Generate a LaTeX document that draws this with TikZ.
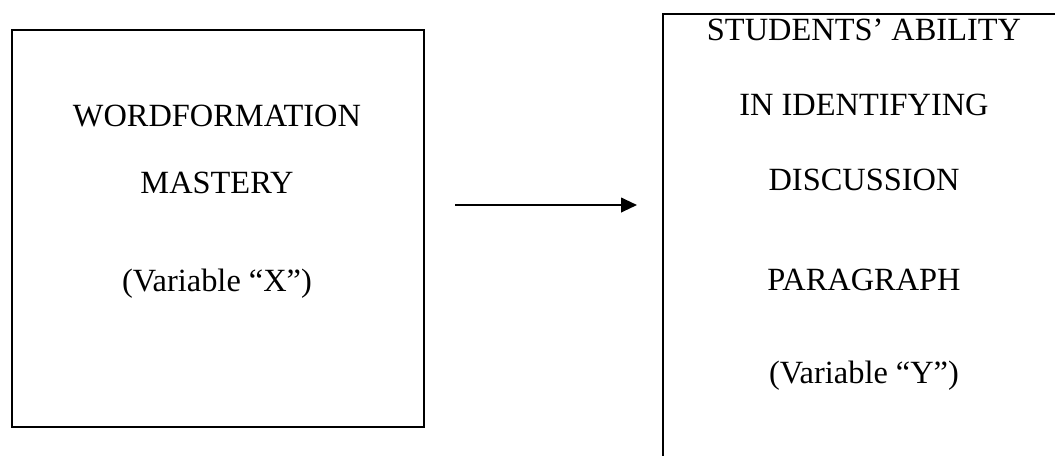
\documentclass[tikz,border=0pt]{standalone}
\usepackage{fontspec}
\setmainfont{Liberation Serif}
\usetikzlibrary{arrows.meta}
\begin{document}
\begin{tikzpicture}[x=0.75pt,y=-0.75pt,
  box/.style={draw=black,line width=1.8pt,rectangle,inner sep=0pt},
  label/.style={anchor=base,inner sep=0pt,font=\fontsize{24.3pt}{29pt}\selectfont},
  flow/.style={line width=1.5pt,-{Triangle[length=12pt,width=11pt]}}]
  \useasboundingbox (0,0) rectangle (1055,455);
  \clip (0,0) rectangle (1055,455);
  % left box: independent variable
  \node[box,minimum width=412*0.75pt,minimum height=397*0.75pt,anchor=north west] (lbox) at (11,29) {};
  \node[label] (x1) at (217,126) {WORDFORMATION};
  \node[label] (x2) at (217,193) {MASTERY};
  \node[label] (x3) at (217,291) {(Variable “X”)};
  % right box: dependent variable (runs past the page edge)
  \node[box,minimum width=420*0.75pt,minimum height=470*0.75pt,anchor=north west] (rbox) at (662,13) {};
  \node[label] (y1) at (864,40) {STUDENTS’ ABILITY};
  \node[label] (y2) at (864,115) {IN IDENTIFYING};
  \node[label] (y3) at (864,190) {DISCUSSION};
  \node[label] (y4) at (864,290) {PARAGRAPH};
  \node[label] (y5) at (864,383) {(Variable “Y”)};
  % connector between the two variables
  \coordinate (lvl) at (0,205);
  \draw[flow,shorten <=30*0.75pt,shorten >=25*0.75pt] (lbox.east |- lvl) -- (rbox.west |- lvl);
\end{tikzpicture}
\end{document}
